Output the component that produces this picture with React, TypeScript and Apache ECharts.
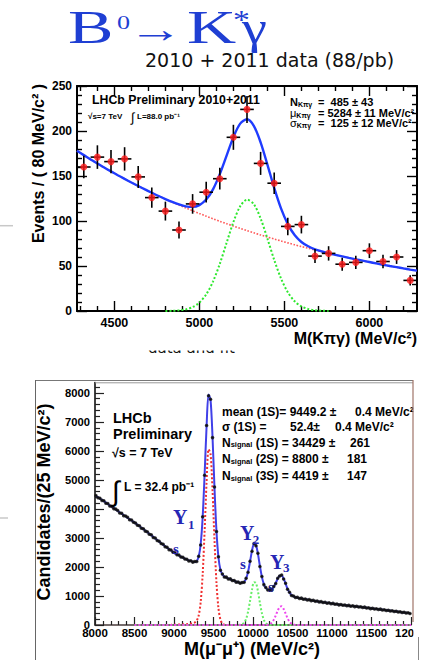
import React, { useEffect, useRef } from 'react';
import * as echarts from 'echarts';

// ---------- B0 -> K* gamma candidates, 80 MeV/c^2 bins ----------
const kpgMass = [4320, 4400, 4480, 4560, 4640, 4720, 4800, 4880, 4960, 5040, 5120, 5200, 5280, 5360, 5440, 5520, 5600, 5680, 5760, 5840, 5920, 6000, 6080, 6160, 6240];
const kpgCounts = [160, 171, 166, 169, 149, 126, 111, 90, 119, 132, 147, 193, 224, 164, 142, 94, 96, 61, 64, 52, 54, 67, 55, 60, 34];
const kpgErrors = [12.6, 13.1, 12.9, 13.0, 12.2, 11.2, 10.5, 9.5, 10.9, 11.5, 12.1, 13.9, 15.0, 12.8, 11.9, 9.7, 9.8, 7.8, 8.0, 7.2, 7.3, 8.2, 7.4, 7.7, 5.8];
const kpgHalfBin = 40;

// fit components sampled every 40 MeV/c^2
const kpgCurveMass = [4280, 4320, 4360, 4400, 4440, 4480, 4520, 4560, 4600, 4640, 4680, 4720, 4760, 4800, 4840, 4880, 4920, 4960, 5000, 5040, 5080, 5120, 5160, 5200, 5240, 5280, 5320, 5360, 5400, 5440, 5480, 5520, 5560, 5600, 5640, 5680, 5720, 5760, 5800, 5840, 5880, 5920, 5960, 6000, 6040, 6080, 6120, 6160, 6200, 6240, 6280];
const kpgBackground = [178.0, 173.2, 168.4, 163.9, 159.4, 155.1, 150.9, 146.8, 142.8, 138.9, 135.1, 131.4, 127.8, 124.4, 121.0, 117.7, 114.5, 111.4, 108.3, 105.4, 102.5, 99.7, 97.0, 94.4, 91.8, 89.3, 86.9, 84.5, 82.2, 80.0, 77.8, 75.7, 73.6, 71.6, 69.7, 67.8, 65.9, 64.1, 62.4, 60.7, 59.0, 57.4, 55.9, 54.4, 52.9, 51.4, 50.0, 48.7, 47.3, 46.0, 44.8];
const kpgSignal = [0, 0, 0, 0, 0, 0, 0, 0, 0, 0, 0, 0, 0, 0, 0.2, 0.7, 1.8, 4.3, 9.4, 18.4, 32.7, 52.4, 75.7, 98.8, 116.4, 123.7, 118.8, 102.9, 80.5, 56.8, 36.2, 20.8, 10.8, 5.1, 2.2, 0.8, 0.3, 0, 0, 0, 0, 0, 0, 0, 0, 0, 0, 0, 0, 0, 0];
const kpgSignalRange = [4800, 5760];

const kpgMajorTicks = [4500, 5000, 5500, 6000];
const kpgMinorTicks = [4300, 4400, 4600, 4700, 4800, 4900, 5100, 5200, 5300, 5400, 5600, 5700, 5800, 5900, 6100, 6200];

// ---------- mu+ mu- candidates, 25 MeV/c^2 bins starting at 8000 MeV/c^2 ----------
const mumuFirstEdge = 8000;
const mumuBinWidth = 25;
const mumuCounts = [
  4460, 4390, 4372, 4296, 4281, 4200, 4185, 4102, 4090, 4012, 3995, 3950, 3862, 3851, 3770, 3760,
  3712, 3630, 3618, 3540, 3520, 3441, 3420, 3338, 3318, 3236, 3215, 3130, 3110, 3020, 2998, 2910,
  2890, 2806, 2785, 2700, 2680, 2598, 2585, 2508, 2492, 2420, 2410, 2344, 2335, 2275, 2268, 2210,
  2218, 2168, 2190, 2192, 2370, 2760, 3730, 5160, 6880, 7900, 7780, 6460, 4760, 3220, 2350, 1890,
  1760, 1655, 1650, 1588, 1590, 1532, 1535, 1478, 1484, 1440, 1468, 1470, 1612, 1818, 2200, 2540,
  2810, 2730, 2470, 2015, 1675, 1392, 1290, 1205, 1220, 1218, 1328, 1430, 1610, 1688, 1725, 1588,
  1440, 1232, 1128, 1018, 1000, 948, 955, 915, 926, 890, 900, 865, 875, 840, 850, 815,
  826, 795, 806, 772, 786, 752, 766, 735, 746, 715, 726, 694, 707, 678, 692, 663,
  677, 648, 662, 633, 647, 618, 632, 603, 616, 584, 596, 564, 577, 548, 562, 533,
  547, 516, 529, 498, 512, 481, 494, 463, 477, 446, 459, 428, 442, 411, 424, 393,
];
const mumuFit = [
  4448, 4403, 4358, 4313, 4266, 4219, 4171, 4124, 4076, 4029, 3981, 3934, 3886, 3839, 3791, 3744,
  3696, 3649, 3601, 3554, 3505, 3455, 3405, 3355, 3304, 3251, 3199, 3146, 3093, 3038, 2983, 2928,
  2874, 2821, 2769, 2716, 2665, 2615, 2570, 2523, 2479, 2438, 2398, 2358, 2321, 2289, 2256, 2227,
  2203, 2183, 2175, 2204, 2351, 2783, 3703, 5187, 6852, 7944, 7762, 6491, 4733, 3244, 2335, 1909,
  1742, 1674, 1636, 1605, 1576, 1549, 1521, 1494, 1470, 1456, 1453, 1486, 1598, 1832, 2184, 2561,
  2794, 2754, 2450, 2032, 1659, 1409, 1276, 1218, 1206, 1234, 1313, 1445, 1595, 1704, 1710, 1603,
  1426, 1248, 1115, 1032, 987, 961, 942, 927, 914, 901, 889, 876, 864, 851, 839, 826,
  815, 805, 795, 785, 775, 765, 755, 745, 735, 725, 715, 705, 696, 689, 681, 674,
  666, 659, 651, 644, 636, 629, 621, 614, 605, 595, 585, 575, 566, 559, 551, 544,
  536, 527, 518, 509, 501, 492, 483, 474, 466, 457, 448, 439, 431, 422, 413, 404,
];
// signal shapes of the three peaks: [mass, candidates per bin]
const ups1S = [[8900, 0], [8962.5, 5], [8987.5, 8], [9012.5, 10], [9037.5, 12], [9062.5, 14], [9087.5, 17], [9112.5, 20], [9137.5, 25], [9162.5, 30], [9187.5, 38], [9212.5, 49], [9237.5, 62], [9262.5, 86], [9287.5, 148], [9312.5, 325], [9337.5, 784], [9362.5, 1732], [9387.5, 3243], [9412.5, 4936], [9437.5, 6055], [9462.5, 5901], [9487.5, 4657], [9512.5, 2927], [9537.5, 1465], [9562.5, 584], [9587.5, 185], [9612.5, 47], [9637.5, 9], [9662.5, 1], [9700, 0]];
const ups2S = [[8500, 0], [9812.5, 0], [9837.5, 6], [9862.5, 23], [9887.5, 76], [9912.5, 207], [9937.5, 458], [9962.5, 828], [9987.5, 1222], [10012.5, 1473], [10037.5, 1450], [10062.5, 1164], [10087.5, 763], [10112.5, 409], [10137.5, 179], [10162.5, 64], [10187.5, 19], [10212.5, 5], [10237.5, 0], [12000, 0]];
const ups3S = [[8500, 0], [10137.5, 0], [10162.5, 2], [10187.5, 9], [10212.5, 30], [10237.5, 80], [10262.5, 177], [10287.5, 326], [10312.5, 494], [10337.5, 620], [10362.5, 644], [10387.5, 554], [10412.5, 394], [10437.5, 231], [10462.5, 113], [10487.5, 45], [10512.5, 15], [10537.5, 4], [10562.5, 0], [12000, 0]];

const mumuYTicks = [0, 1000, 2000, 3000, 4000, 5000, 6000, 7000, 8000];
const mumuYMinorTicks = [200, 400, 600, 800, 1200, 1400, 1600, 1800, 2200, 2400, 2600, 2800, 3200, 3400, 3600, 3800, 4200, 4400, 4600, 4800, 5200, 5400, 5600, 5800, 6200, 6400, 6600, 6800, 7200, 7400, 7600, 7800, 8200];

const SANS = '"Liberation Sans", Arial, Helvetica, sans-serif';
const SERIF = '"Liberation Serif", "Times New Roman", serif';
const COMIC = '"DejaVu Sans", sans-serif';
const TITLE_BLUE = '#1f3fd3';
const UPS_BLUE = '#2626b4';

type TextOpts = {
  family?: string; weight?: string; color?: string; align?: string;
  scaleX?: number; rotation?: number; rich?: any;
};

function label(x: number, y: number, text: string, size: number, o: TextOpts = {}) {
  const align = o.align ?? 'left';
  return {
    type: 'text', x, y, z: 30, silent: true,
    scaleX: o.scaleX ?? 1, rotation: o.rotation ?? 0,
    style: {
      text, fontSize: size, fontFamily: o.family ?? SANS, fontWeight: o.weight ?? 'bold',
      fill: o.color ?? '#000', align, textAlign: align,
      verticalAlign: 'middle', textVerticalAlign: 'middle', rich: o.rich,
    },
  };
}

function hline(x1: number, x2: number, y: number, color: string, width: number) {
  return { type: 'line', z: 32, silent: true, shape: { x1, y1: y, x2, y2: y }, style: { stroke: color, lineWidth: width } };
}
function vline(x: number, y1: number, y2: number, color: string, width: number) {
  return { type: 'line', z: 32, silent: true, shape: { x1: x, y1, x2: x, y2 }, style: { stroke: color, lineWidth: width } };
}

function tok(size: number, weight = 'bold', family = SANS, extra: any = {}) {
  return { fontSize: size, fontWeight: weight, fontFamily: family, fill: '#000', ...extra };
}

const plain = (v: number) => String(v);

function buildOption() {
  const mumuCenters = mumuCounts.map((_, i) => mumuFirstEdge + mumuBinWidth * (i + 0.5));
  const frame = { show: true, onZero: false, lineStyle: { color: '#000', width: 2 } };
  const tickStyle = { color: '#000', width: 1.4 };
  const sansLabel = { fontFamily: SANS, fontWeight: 'bold', color: '#000', formatter: plain };

  const topX = (position: string, custom: number[], len: number, withLine: boolean, withLabels: boolean) => ({
    gridIndex: 0, type: 'value', min: 4280, max: 6280, position,
    axisLine: withLine ? frame : { show: false, onZero: false },
    axisTick: { show: true, inside: true, length: len, customValues: custom, lineStyle: tickStyle },
    axisLabel: withLabels
      ? { show: true, customValues: custom, fontSize: 12.5, margin: 5, ...sansLabel }
      : { show: false },
    splitLine: { show: false },
  });
  const topY = (position: string, withLabels: boolean) => ({
    gridIndex: 0, type: 'value', min: 0, max: 250, interval: 50, position,
    axisLine: frame,
    axisTick: { show: true, inside: true, length: 10, lineStyle: tickStyle },
    minorTick: { show: true, splitNumber: 5, length: 5, lineStyle: tickStyle },
    axisLabel: withLabels ? { show: true, fontSize: 12, margin: 5, ...sansLabel } : { show: false },
    splitLine: { show: false }, minorSplitLine: { show: false },
  });

  const dataBars = (xi: number, yi: number, pts: number[][], halfBin: number, width: number, withErr: boolean) => ({
    type: 'custom', xAxisIndex: xi, yAxisIndex: yi, z: 4, silent: true, clip: false,
    data: pts,
    renderItem: (_p: any, api: any) => {
      const m = api.value(0), n = api.value(1), e = api.value(2);
      const a = api.coord([m - halfBin, n]);
      const b = api.coord([m + halfBin, n]);
      const st = { stroke: '#000', lineWidth: width };
      const children: any[] = [{ type: 'line', shape: { x1: a[0], y1: a[1], x2: b[0], y2: b[1] }, style: st }];
      if (withErr) {
        const c = api.coord([m, n + e]);
        const d = api.coord([m, n - e]);
        children.push({ type: 'line', shape: { x1: c[0], y1: c[1], x2: d[0], y2: d[1] }, style: st });
      }
      return { type: 'group', children };
    },
  });

  const curve = (xi: number, yi: number, data: number[][], color: string, width: number, dotted: boolean, z: number, smooth: number) => ({
    type: 'line', xAxisIndex: xi, yAxisIndex: yi, data, showSymbol: false, smooth, z, silent: true,
    lineStyle: { color, width, type: dotted ? 'dotted' : 'solid' },
  });

  const kpgTotal = kpgCurveMass.map((m, i) => [m, kpgBackground[i] + kpgSignal[i]]);
  const kpgBkg = kpgCurveMass.map((m, i) => [m, kpgBackground[i]]);
  const kpgSig = kpgCurveMass
    .map((m, i) => [m, kpgSignal[i]])
    .filter(([m]) => m >= kpgSignalRange[0] && m <= kpgSignalRange[1]);

  const sub7 = tok(7);
  const stat11 = tok(11);
  const greek11 = tok(11, 'normal');

  const graphic: any[] = [
    // headline
    label(68, 27.5, 'B', 47, { family: SERIF, weight: 'normal', color: TITLE_BLUE, scaleX: 1.45 }),
    label(117, 22.5, '0', 18, { family: SERIF, weight: 'normal', color: TITLE_BLUE, scaleX: 1.45 }),
    label(128, 29, '\u2192', 38, { family: SERIF, weight: 'normal', color: TITLE_BLUE, scaleX: 1.45 }),
    label(187, 27.5, 'K', 47, { family: SERIF, weight: 'normal', color: TITLE_BLUE, scaleX: 1.45 }),
    label(233, 19.5, '*', 28, { family: SERIF, weight: 'normal', color: TITLE_BLUE, scaleX: 1.2 }),
    label(242, 27.5, '\u03b3', 47, { family: SERIF, weight: 'normal', color: TITLE_BLUE, scaleX: 1.2 }),
    label(145, 59.5, '2010 + 2011 data (88/pb)', 19, { family: COMIC, weight: 'normal', color: '#111' }),

    // B0 -> K* gamma panel texts
    label(38, 163.5, 'Events / ( 80 MeV/c\u00b2 )', 16, { rotation: Math.PI / 2, align: 'center' }),
    label(417, 338, 'M(K\u03c0\u03b3) (MeV/c\u00b2)', 16, { align: 'right' }),
    label(92, 100, 'LHCb Preliminary 2010+2011', 12.3),
    label(88, 116, '\u221as=7 TeV', 8),
    label(131, 117, '\u222b', 13, { weight: 'normal' }),
    label(137, 116, 'L=88.0 pb\u207b\u00b9', 8),
    label(290, 102, '{a|N}{s|K\u03c0\u03b3}', 11, { rich: { a: stat11, s: { ...sub7, verticalAlign: 'bottom' } } }),
    label(290, 113.3, '{a|\u03bc}{s|K\u03c0\u03b3}', 11, { rich: { a: greek11, s: { ...sub7, verticalAlign: 'bottom' } } }),
    label(290, 123.3, '{a|\u03c3}{s|K\u03c0\u03b3}', 11, { rich: { a: greek11, s: { ...sub7, verticalAlign: 'bottom' } } }),
    label(318, 102, '=  485 \u00b1 43', 11),
    label(318, 113.3, '= 5284 \u00b1 11 MeV/c\u00b2', 11),
    label(318, 123.3, '=  125 \u00b1 12 MeV/c\u00b2', 11),

    // caption below the upper panel, mostly hidden behind the next slide element
    label(148, 347.8, 'data and fit', 15, { family: COMIC, weight: 'normal', color: '#111' }),
    { type: 'rect', z: 31, silent: true, shape: { x: 140, y: 331, width: 125, height: 19.5 }, style: { fill: '#fff' } },

    // stray rules at the left margin
    hline(0, 13, 225.7, '#c8c8c8', 1.5),
    hline(0, 8, 518, '#c8c8c8', 1.5),

    // Upsilon panel frame
    { type: 'rect', z: 31, silent: true, shape: { x: 413.5, y: 383, width: 14, height: 277 }, style: { fill: '#fff' } },
    hline(35, 413, 380.5, '#777', 1),
    hline(95, 413, 382.8, '#999', 1),
    vline(35.5, 380, 660, '#666', 1),
    vline(413, 380, 622, '#a07468', 1.2),
    vline(418.5, 637, 660, '#888', 1),

    // Upsilon panel texts
    label(43.5, 502, 'Candidates/(25 MeV/c\u00b2)', 18, { rotation: Math.PI / 2, align: 'center' }),
    label(320, 648.5, 'M(\u03bc\u207b\u03bc\u207a) (MeV/c\u00b2)', 18, { align: 'right' }),
    label(113, 417.7, 'LHCb', 14.5),
    label(113, 433.5, 'Preliminary', 14.5),
    label(112, 452.5, '\u221as = 7 TeV', 12.5),
    label(112, 491, '\u222b', 28, { weight: 'normal' }),
    label(124, 486.5, 'L = 32.4 pb\u207b\u00b9', 12),

    label(222, 411.7, 'mean (1S)= 9449.2 \u00b1', 12),
    label(355, 411.7, '0.4 MeV/c\u00b2', 12),
    label(222, 426.7, '\u03c3 (1S) =', 12),
    label(290, 426.7, '52.4\u00b1', 12),
    label(335, 426.7, '0.4 MeV/c\u00b2', 12),
    label(222, 442.7, '{a|N}{s|signal}{a| (1S) = 34429 \u00b1}', 12, { rich: { a: tok(12), s: { ...tok(7.5), verticalAlign: 'bottom' } } }),
    label(350, 442.7, '261', 12),
    label(222, 459.3, '{a|N}{s|signal}{a| (2S) = 8800 \u00b1}', 12, { rich: { a: tok(12), s: { ...tok(7.5), verticalAlign: 'bottom' } } }),
    label(347, 459.3, '181', 12),
    label(222, 476, '{a|N}{s|signal}{a| (3S) = 4419 \u00b1}', 12, { rich: { a: tok(12), s: { ...tok(7.5), verticalAlign: 'bottom' } } }),
    label(347, 476, '147', 12),

    label(173, 516.5, '\u03a5', 20, { family: SERIF, color: UPS_BLUE }),
    label(188, 524, '1', 13, { family: SERIF, color: UPS_BLUE }),
    label(173, 548.5, 's', 15, { family: SERIF, color: UPS_BLUE }),
    label(240, 533.3, '\u03a5', 20, { family: SERIF, color: UPS_BLUE }),
    label(252.7, 539.5, '2', 13, { family: SERIF, color: UPS_BLUE }),
    label(240, 563.5, 's', 15, { family: SERIF, color: UPS_BLUE }),
    label(270, 561.5, '\u03a5', 20, { family: SERIF, color: UPS_BLUE }),
    label(283, 567, '3', 13, { family: SERIF, color: UPS_BLUE }),
    label(268, 586.5, 's', 15, { family: SERIF, color: '#1a1a80' }),
  ];

  return {
    animation: false,
    backgroundColor: '#fff',
    grid: [
      { left: 77, top: 86, width: 340, height: 225, containLabel: false, outerBoundsMode: 'none' },
      { left: 95, top: 382.5, width: 316, height: 242.5, containLabel: false, outerBoundsMode: 'none' },
    ],
    xAxis: [
      topX('bottom', kpgMajorTicks, 10, true, true),
      topX('bottom', kpgMinorTicks, 5, false, false),
      topX('top', kpgMajorTicks, 10, true, false),
      topX('top', kpgMinorTicks, 5, false, false),
      {
        gridIndex: 1, type: 'value', min: 8000, max: 12000, interval: 500, position: 'bottom',
        axisLine: { show: true, onZero: false, lineStyle: { color: '#4a3c3c', width: 1.6 } },
        axisTick: { show: true, inside: true, length: 8, lineStyle: { color: '#222', width: 1.2 } },
        minorTick: { show: true, splitNumber: 5, length: 4, lineStyle: { color: '#222', width: 1.2 } },
        axisLabel: { show: true, fontSize: 11.5, margin: 2, ...sansLabel },
        splitLine: { show: false }, minorSplitLine: { show: false },
      },
    ],
    yAxis: [
      topY('left', true),
      topY('right', false),
      {
        gridIndex: 1, type: 'value', min: 0, max: 8360, position: 'left',
        axisLine: { show: true, onZero: false, lineStyle: { color: '#111', width: 1.6 } },
        axisTick: { show: true, inside: true, length: 9, customValues: mumuYTicks, lineStyle: { color: '#222', width: 1.2 } },
        axisLabel: { show: true, customValues: mumuYTicks, fontSize: 11.2, margin: 5, ...sansLabel },
        splitLine: { show: false },
      },
      {
        gridIndex: 1, type: 'value', min: 0, max: 8360, position: 'left',
        axisLine: { show: false, onZero: false },
        axisTick: { show: true, inside: true, length: 5, customValues: mumuYMinorTicks, lineStyle: { color: '#222', width: 1.2 } },
        axisLabel: { show: false },
        splitLine: { show: false },
      },
    ],
    series: [
      // B0 -> K* gamma fit and data
      curve(0, 0, kpgBkg, '#ff5a5a', 1.6, true, 2, 0.3),
      curve(0, 0, kpgSig, '#2ee82e', 2, true, 2, 0.3),
      curve(0, 0, kpgTotal, '#1f3cff', 2.4, false, 3, 0.3),
      dataBars(0, 0, kpgMass.map((m, i) => [m, kpgCounts[i], kpgErrors[i]]), kpgHalfBin, 1.6, true),
      {
        type: 'scatter', xAxisIndex: 0, yAxisIndex: 0, z: 5, silent: true,
        data: kpgMass.map((m, i) => [m, kpgCounts[i]]),
        symbol: 'circle', symbolSize: 7, itemStyle: { color: '#ff1a1a' },
      },
      // Upsilon fit and data
      curve(4, 2, ups1S, '#f03030', 2, true, 2, 0.3),
      curve(4, 2, ups2S, '#66ee66', 2, true, 2, 0.3),
      curve(4, 2, ups3S, '#ee44ee', 2, true, 2, 0.3),
      curve(4, 2, mumuCenters.map((m, i) => [m, mumuFit[i]]), '#4040e8', 2, false, 3, 0.3),
      dataBars(4, 2, mumuCenters.map((m, i) => [m, mumuCounts[i], 0]), mumuBinWidth / 2, 1.3, false),
      {
        type: 'scatter', xAxisIndex: 4, yAxisIndex: 2, z: 5, silent: true,
        data: mumuCenters.map((m, i) => [m, mumuCounts[i]]),
        symbol: 'circle', symbolSize: 3.5, itemStyle: { color: '#111' },
      },
    ],
    graphic,
  };
}

export default function App() {
  const ref = useRef<HTMLDivElement>(null);
  useEffect(() => {
    if (!ref.current) return;
    const chart = echarts.init(ref.current, null, { renderer: 'svg' });
    chart.setOption(buildOption() as any);
    return () => chart.dispose();
  }, []);
  return (
    <div
      ref={ref}
      style={{ position: 'fixed', left: 0, top: 0, width: 427, height: 660, background: '#fff' }}
    />
  );
}
